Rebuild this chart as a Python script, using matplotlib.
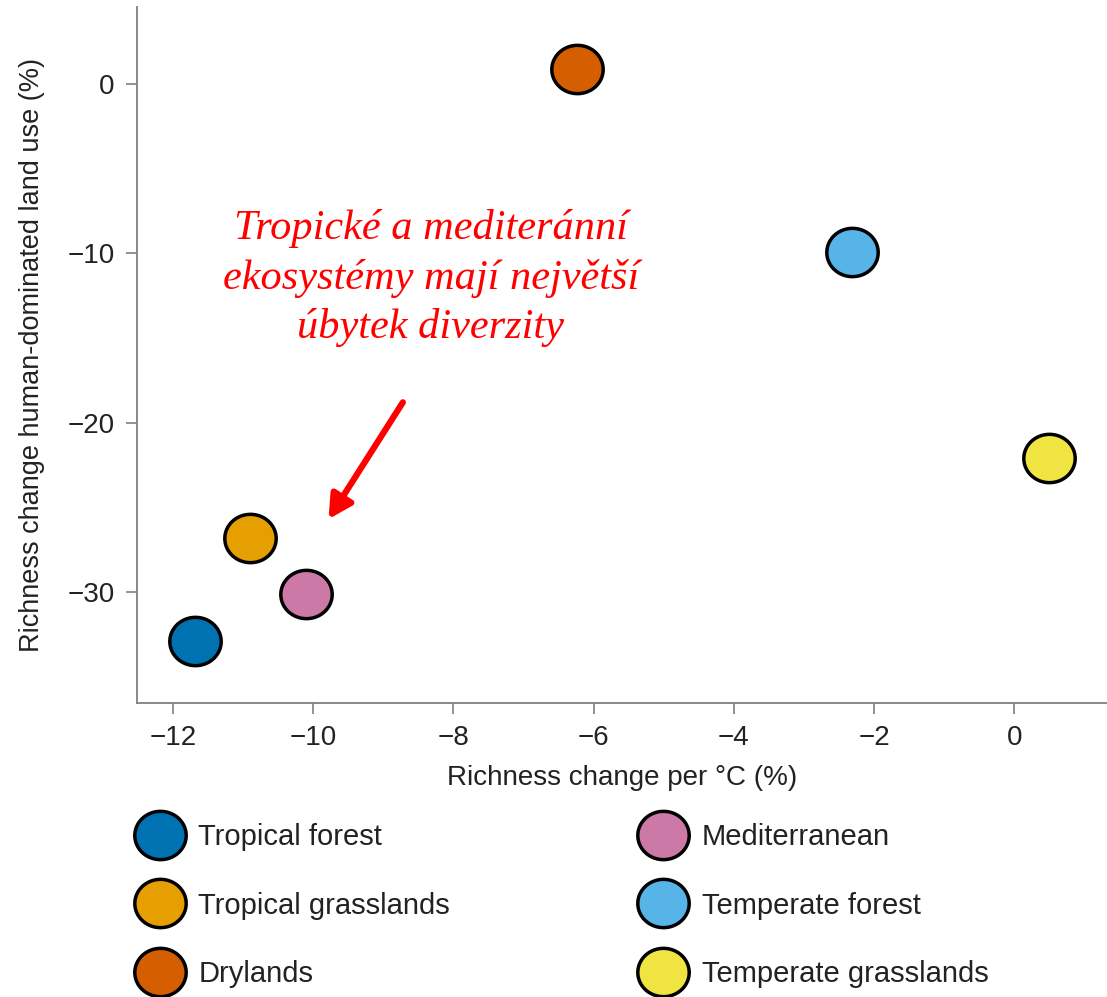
import matplotlib
matplotlib.use('Agg')
import matplotlib.pyplot as plt
from matplotlib.path import Path
from matplotlib.lines import Line2D
import numpy as np

# Biome data
biomes = ['Tropical forest', 'Tropical grasslands', 'Drylands',
          'Mediterranean', 'Temperate forest', 'Temperate grasslands']
temp_change = [-11.69, -10.9, -6.23, -10.1, -2.31, 0.5]
landuse_change = [-32.9, -26.8, 0.9, -30.1, -9.9, -22.1]
colors = ['#0072B2', '#E69F00', '#D55E00', '#CC79A7', '#56B4E9', '#F0E442']

x_ticks = [-12, -10, -8, -6, -4, -2, 0]
y_ticks = [0, -10, -20, -30]

plt.rcParams['font.family'] = ['Liberation Sans', 'DejaVu Sans']

# slightly wide ellipse marker like the original
t = np.linspace(0, 2 * np.pi, 100)
ell = Path(np.column_stack([np.cos(t), 0.94 * np.sin(t)]), closed=True)

fig = plt.figure(figsize=(11.07, 9.97), dpi=100)
ax = fig.add_axes([0.1238, 0.2949, 0.8762, 0.6981])

for xv, yv, c in zip(temp_change, landuse_change, colors):
    ax.scatter(xv, yv, s=37**2, marker=ell, color=c, edgecolor='black',
               linewidth=2.5, zorder=3)

ax.set_xlim(-12.51, 1.32)
ax.set_ylim(-36.56, 4.55)
ax.set_xticks(x_ticks)
ax.set_yticks(y_ticks)
ax.set_xticklabels([str(v).replace('-', '\u2212') for v in x_ticks])
ax.set_yticklabels([str(v).replace('-', '\u2212') for v in y_ticks])

for s in ['top', 'right']:
    ax.spines[s].set_visible(False)
for s in ['left', 'bottom']:
    ax.spines[s].set_color('#808080')
    ax.spines[s].set_linewidth(1.3)
ax.tick_params(colors='#808080', labelcolor='#222222', labelsize=20,
               length=8, width=1.2, pad=8)

ax.set_xlabel('Richness change per °C (%)', fontsize=20, color='#222222', labelpad=10)
ax.set_ylabel('Richness change human-dominated land use (%)', fontsize=19.5,
              color='#222222', labelpad=16)

# red annotation
ax.text(-8.32, -11.46,
        'Tropické a mediteránní\nekosystémy mají největší\núbytek diverzity',
        fontsize=30.5, color='red', style='italic', family='Liberation Serif',
        ha='center', va='center', linespacing=1.35)
ax.annotate('', xy=(-9.78, -25.7), xytext=(-8.72, -18.8),
            arrowprops=dict(arrowstyle='-|>,head_length=1.4,head_width=0.75',
                            color='red', lw=4.5, shrinkA=0, shrinkB=0))

handles = [Line2D([], [], linestyle='none', marker=ell, markersize=37,
                  markerfacecolor=c, markeredgecolor='black', markeredgewidth=2.5)
           for c in colors]
fig.legend(handles, biomes, ncol=2, loc='upper left', bbox_to_anchor=(0.105, 0.189),
           frameon=False, fontsize=21, labelspacing=1.39, columnspacing=6.3,
           handletextpad=0.32, borderpad=0, labelcolor='#222222')

fig.savefig('out.png', dpi=100)
